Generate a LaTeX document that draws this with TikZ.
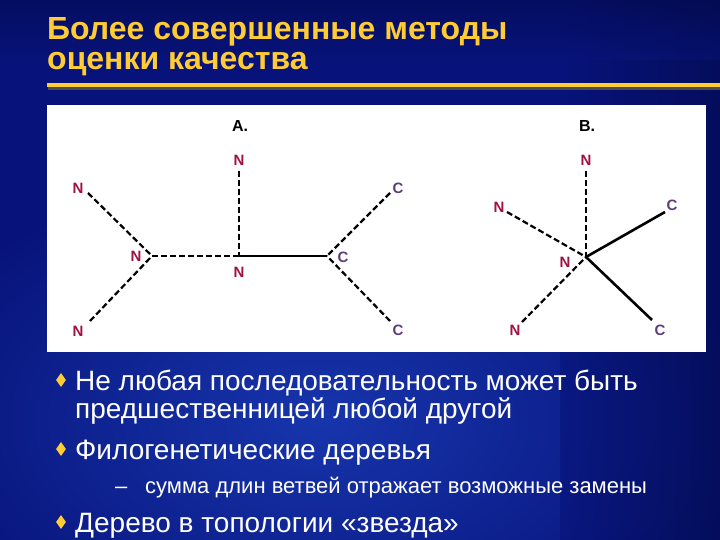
\documentclass[tikz,border=0pt]{standalone}
\usepackage{fontspec}
\setmainfont{Liberation Sans}
\usetikzlibrary{shapes.geometric}
\definecolor{bgbase}{HTML}{07137A}
\definecolor{bglight}{HTML}{1735AC}
\definecolor{bgdark}{HTML}{030A48}
\definecolor{gold}{HTML}{FFCC33}
\definecolor{nred}{HTML}{A01040}
\definecolor{cpurple}{HTML}{5E3C80}
\tikzset{
  lab/.style={font=\fontsize{15}{15}\selectfont\bfseries, inner sep=0pt},
  nlab/.style={lab, text=nred},
  clab/.style={lab, text=cpurple},
  dashedge/.style={draw=black, line width=2.2pt, dash pattern=on 6pt off 3pt},
  solidedge/.style={draw=black, line width=2.6pt},
  titletext/.style={font=\fontsize{32}{32}\selectfont\bfseries, text=gold, anchor=base west, inner sep=0pt},
  bullettext/.style={font=\fontsize{28}{28}\selectfont, text=white, anchor=base west, inner sep=0pt},
  subtext/.style={font=\fontsize{22}{22}\selectfont, text=white, anchor=base west, inner sep=0pt},
  bulletmark/.style={diamond, fill=gold, minimum width=10pt, minimum height=14pt, inner sep=0pt}
}
\begin{document}
\begin{tikzpicture}[x=1pt,y=-1pt]
\useasboundingbox (0,0) rectangle (720,540);
% background
\fill[bgbase] (0,0) rectangle (720,540);
\shade[inner color=bglight, outer color=bgbase] (320,420) ellipse (430 and 260);
\shade[left color=bgbase, right color=bgdark, opacity=0.6] (560,0) rectangle (720,540);
\shade[top color=bgdark, bottom color=bgbase, opacity=0.5] (0,0) rectangle (720,60);
% title
\node[titletext] (t1) at (47,40) {Более совершенные методы};
\node[titletext] (t2) at (47,70) {оценки качества};
\fill[black!70] (48,86) rectangle (720,90);
\fill[gold] (47,83) rectangle (720,87);
% panel
\fill[white] (47,105) rectangle (706,352);
% ---- Tree A
\node[font=\fontsize{16}{16}\selectfont\bfseries, inner sep=0pt] (A) at (240,126) {A.};
\coordinate (a1) at (152,256);
\coordinate (a2) at (239,256);
\coordinate (a3) at (327,256);
\node[nlab] (aNt) at (239,160) {N};
\node[nlab] (aNul) at (78,188) {N};
\node[nlab] (aNll) at (78,331) {N};
\node[nlab] (aNm) at (136,256) {N};
\node[nlab] (aNb) at (239,272) {N};
\node[clab] (aCm) at (343,257) {C};
\node[clab] (aCur) at (398,188) {C};
\node[clab] (aClr) at (398,330) {C};
\coordinate (aNtE) at (239,171);
\coordinate (aNulE) at (88,193);
\coordinate (aNllE) at (90,321);
\coordinate (aCurE) at (390,193);
\coordinate (aClrE) at (390,321);
\draw[dashedge] (aNtE) -- (a2);
\draw[dashedge] (aNulE) -- (a1);
\draw[dashedge] (aNllE) -- (a1);
\draw[dashedge] (a1) -- (a2);
\draw[solidedge] (a2) -- (a3);
\draw[dashedge] (aCurE) -- (a3);
\draw[dashedge] (aClrE) -- (a3);
% ---- Tree B
\node[font=\fontsize{16}{16}\selectfont\bfseries, inner sep=0pt] (B) at (587,126) {B.};
\coordinate (b0) at (586,257);
\node[nlab] (bNt) at (586,160) {N};
\node[nlab] (bNl) at (499,207) {N};
\node[nlab] (bNc) at (565,262) {N};
\node[nlab] (bNll) at (515,330) {N};
\node[clab] (bCur) at (672,205) {C};
\node[clab] (bClr) at (660,330) {C};
\coordinate (bNtE) at (586,171);
\coordinate (bNlE) at (507,212);
\coordinate (bNllE) at (522,322);
\coordinate (bCurE) at (665,212);
\coordinate (bClrE) at (652,320);
\draw[dashedge] (bNtE) -- (b0);
\draw[dashedge] (bNlE) -- (b0);
\draw[dashedge] (bNllE) -- (b0);
\draw[solidedge] (b0) -- (bCurE);
\draw[solidedge] (b0) -- (bClrE);
% ---- bullets
\node[bulletmark] (d1) at (61,380) {};
\node[bullettext] (l1) at (75,390) {Не любая последовательность может быть};
\node[bullettext] (l2) at (75,418) {предшественницей любой другой};
\node[bulletmark] (d2) at (61,449) {};
\node[bullettext] (l3) at (75,459) {Филогенетические деревья};
\node[subtext] (l4a) at (115,493) {–};
\node[subtext] (l4) at (145,493) {сумма длин ветвей отражает возможные замены};
\node[bulletmark] (d3) at (61,522) {};
\node[bullettext] (l5) at (75,532) {Дерево в топологии «звезда»};
\end{tikzpicture}
\end{document}
